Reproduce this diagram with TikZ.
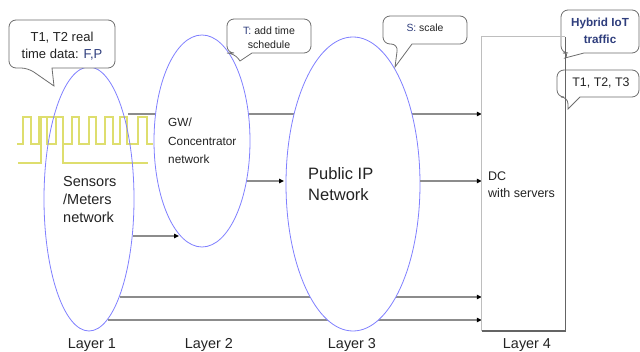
\documentclass[tikz,border=0pt]{standalone}
\usepackage{fontspec}
\setmainfont{Liberation Sans}
\usetikzlibrary{shapes.geometric,arrows.meta}
\definecolor{ellblue}{RGB}{128,128,255}
\definecolor{wavey}{RGB}{222,222,110}
\definecolor{linegray}{RGB}{140,140,140}
\definecolor{txtblue}{RGB}{47,62,125}
\definecolor{txt}{RGB}{35,35,35}
\definecolor{boxlight}{RGB}{190,190,190}
\definecolor{boxdark}{RGB}{100,100,100}
\definecolor{calloutgray}{RGB}{110,110,110}
\newcommand\callbox[8]{%
  \draw[calloutgray, line width=0.8pt, rounded corners=7pt, fill=white]
    (#6,#4) -- (#3,#4) -- (#3,#2) -- (#1,#2) -- (#1,#4) -- (#5,#4)
    [sharp corners] -- (#7,#8) -- cycle;}
\begin{document}
\begin{tikzpicture}[x=1pt,y=-1pt,
  ell/.style={ellipse, draw=ellblue, line width=0.8pt, inner sep=0pt},
  conn/.style={draw=linegray, line width=1.4pt, -{Triangle[length=5pt,width=4.5pt,color=black]}},
  lbl/.style={text=txt, inner sep=0pt},
  wave/.style={draw=wavey, line width=1.1pt}]
\useasboundingbox (0,0) rectangle (640,352);
\fill[white] (0,0) rectangle (640,352);

% DC box
\node[minimum width=83pt, minimum height=294pt, inner sep=0pt] (dc) at (523.5,184) {};

% signal traces
\draw[wave] (17,144) -| (23,117) -| (31,144) -| (39,117) -| (47,144) -| (56,117)
  -| (63,144) -| (72,117) -| (79,144) -| (89,117) -| (96,144) -| (105,117)
  -| (113,144) -| (120,117) -| (127,144) -| (138,117) -| (147,144) -- (153,144);
\draw[wave] (18,163) -| (41,117) -| (63,163) -- (148,163);

% connector start points
\coordinate (a1s) at (128,114);
\coordinate (a2s) at (133,236);
\coordinate (a2e) at (179,236);
\coordinate (a3s) at (247,181);
\coordinate (a3e) at (284,181);
\coordinate (a4s) at (412,114);
\coordinate (a5s) at (420,181);
\coordinate (a6s) at (120,297);
\coordinate (a7s) at (108,320);

% connectors behind ellipses
\draw[conn] (a1s) -- (dc.west |- a1s);
\draw[conn] (a6s) -- (dc.west |- a6s);
\draw[conn] (a7s) -- (dc.west |- a7s);

% ellipses
\node[ell] (e1) at (89,199) [minimum width=90pt, minimum height=264pt] {};
\node[ell, fill=white] (e2) at (202,141) [minimum width=96pt, minimum height=212pt] {};
\node[ell, fill=white] (e3) at (353,184) [minimum width=134pt, minimum height=294pt] {};

% other connectors
\draw[conn] (a2s) -- (a2e);
\draw[conn] (a3s) -- (a3e);
\draw[conn] (a5s) -- (dc.west |- a5s);

% callouts
\callbox{9}{20}{115}{68}{28}{52}{54}{86}
\callbox{227}{19}{311}{53}{234}{252}{240}{61}
\callbox{383}{16}{467}{44}{398}{412}{395}{67}
\callbox{561}{10}{639}{53}{570}{584}{565}{58}
\callbox{557}{70}{639}{97}{568}{580}{568}{109}

% DC box edges
\draw[boxlight, line width=0.9pt] (dc.south west) -- (dc.north west) -- (dc.north east);
\draw[boxdark, line width=1.4pt] (dc.north east) -- (dc.south east) -- (dc.south west);

% texts
\node[lbl, align=left, anchor=west, font=\fontsize{14.5}{18}\selectfont] (t1) at (63,200) {Sensors\\/Meters\\network};
\node[lbl, align=left, anchor=west, font=\fontsize{11.8}{18.5}\selectfont] (t2) at (168,141) {GW/\\Concentrator\\network};
\node[lbl, align=left, anchor=west, font=\fontsize{16.5}{21}\selectfont] (t3) at (308,184) {Public IP\\Network};
\node[lbl, align=left, anchor=west, font=\fontsize{12.5}{17}\selectfont] (t4) at (488,185) {DC\\with servers};

\node[lbl, font=\fontsize{14.4}{17}\selectfont] (l1) at (92,345) {Layer 1};
\node[lbl, font=\fontsize{14.4}{17}\selectfont] (l2) at (209,345) {Layer 2};
\node[lbl, font=\fontsize{14.4}{17}\selectfont] (l3) at (352,345) {Layer 3};
\node[lbl, font=\fontsize{14.4}{17}\selectfont] (l4) at (527,345) {Layer 4};

\node[lbl, align=center, font=\fontsize{13}{17.5}\selectfont] (c1) at (62,46) {T1, T2 real\\time data: \textcolor{txtblue}{F,P}};
\node[lbl, align=center, font=\fontsize{10.6}{14}\selectfont] (c2) at (269,38) {\textcolor{txtblue}{T:} add time\\schedule};
\node[lbl, font=\fontsize{10.4}{13}\selectfont] (c3) at (425,28) {\textcolor{txtblue}{S:} scale};
\node[lbl, align=center, text=txtblue, font=\bfseries\fontsize{11.7}{17}\selectfont] (c4) at (600,31) {Hybrid IoT\\traffic};
\node[lbl, font=\fontsize{12.4}{15}\selectfont] (c5) at (601,83) {T1, T2, T3};
\end{tikzpicture}
\end{document}
